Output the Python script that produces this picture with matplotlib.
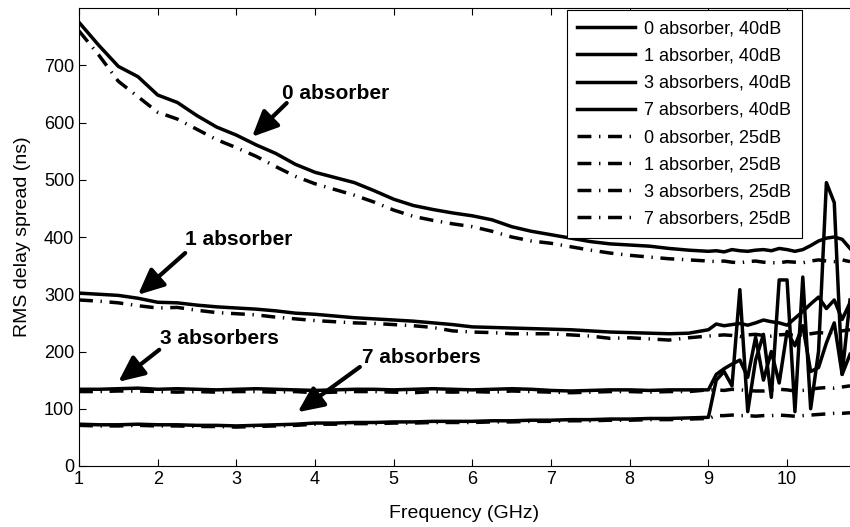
import numpy as np
import matplotlib
matplotlib.use('Agg')
import matplotlib.pyplot as plt

plt.rcParams['font.family'] = ['Liberation Sans', 'DejaVu Sans']
plt.rcParams['font.size'] = 13

# frequency grid (GHz): coarse where smooth, fine where noisy
freq_low = np.arange(1.0, 9.0, 0.25)
freq_high = np.round(np.arange(9.0, 10.85, 0.1), 1)
freq = np.concatenate([freq_low, freq_high])

# RMS delay spread (ns), 40 dB threshold
abs0_40 = [775, 735, 698, 680, 648, 635, 612, 592, 578, 561, 546, 527, 513, 504, 495, 481,
           466, 455, 448, 442, 437, 430, 418, 410, 404, 398, 392, 388, 386, 384, 380, 377,
           375, 376, 374, 378, 376, 375, 377, 378, 376, 380, 378, 375, 378, 385, 393, 398, 400, 396, 380]
abs1_40 = [302, 300, 298, 293, 286, 285, 281, 278, 276, 274, 271, 267, 265, 262, 259, 257,
           255, 253, 250, 247, 243, 242, 241, 240, 239, 238, 236, 234, 233, 232, 231, 232,
           238, 248, 245, 247, 249, 246, 250, 255, 252, 250, 246, 258, 270, 283, 295, 275, 290, 256, 285]
abs3_40 = [134, 134, 135, 136, 134, 135, 134, 133, 134, 135, 134, 133, 132, 133, 134, 134,
           133, 134, 135, 134, 133, 134, 135, 134, 132, 131, 132, 133, 133, 132, 133, 133,
           133, 160, 170, 178, 185, 155, 225, 150, 200, 145, 235, 210, 245, 165, 172, 215, 250, 160, 195]
abs7_40 = [73, 72, 72, 73, 72, 72, 71, 71, 70, 71, 72, 73, 75, 75, 76, 76,
           77, 77, 78, 78, 78, 79, 79, 80, 80, 81, 81, 82, 82, 83, 83, 84,
           85, 150, 165, 140, 308, 95, 185, 230, 120, 325, 325, 95, 330, 100, 200, 495, 460, 160, 290]

# RMS delay spread (ns), 25 dB threshold
abs0_25 = [760, 718, 672, 645, 618, 606, 588, 570, 556, 541, 523, 506, 493, 483, 473, 461,
           447, 436, 429, 423, 418, 410, 400, 393, 389, 383, 377, 372, 368, 365, 362, 360,
           358, 357, 358, 356, 355, 357, 358, 356, 355, 355, 357, 356, 355, 358, 360, 358, 357, 360, 357]
abs1_25 = [290, 288, 285, 280, 276, 277, 272, 268, 266, 264, 260, 257, 254, 252, 250, 249,
           247, 245, 242, 236, 234, 233, 231, 231, 231, 229, 227, 223, 224, 222, 220, 224,
           227, 228, 229, 228, 226, 229, 230, 228, 227, 229, 230, 228, 229, 231, 233, 232, 234, 236, 238]
abs3_25 = [130, 130, 131, 131, 130, 129, 130, 129, 130, 130, 129, 130, 128, 129, 130, 130,
           129, 128, 130, 129, 130, 129, 131, 130, 129, 128, 129, 130, 130, 129, 130, 130,
           133, 133, 132, 134, 133, 132, 131, 131, 133, 134, 133, 131, 132, 134, 136, 137, 136, 138, 140]
abs7_25 = [71, 70, 70, 71, 70, 70, 69, 69, 68, 69, 70, 71, 73, 73, 74, 74,
           75, 75, 76, 76, 76, 77, 77, 78, 78, 79, 79, 80, 80, 81, 81, 82,
           83, 88, 88, 89, 88, 88, 87, 88, 88, 89, 88, 87, 88, 89, 90, 91, 92, 92, 93]

labels_40 = ['0 absorber, 40dB', '1 absorber, 40dB', '3 absorbers, 40dB', '7 absorbers, 40dB']
labels_25 = ['0 absorber, 25dB', '1 absorber, 25dB', '3 absorbers, 25dB', '7 absorbers, 25dB']

annot_text = ['0 absorber', '1 absorber', '3 absorbers', '7 absorbers']
annot_text_pos = [(3.58, 651), (2.35, 395), (2.03, 222), (4.6, 190)]
annot_tail = [(3.64, 634), (2.35, 372), (2.02, 203), (4.57, 173)]
annot_head = [(3.2, 575), (1.75, 299), (1.5, 147), (3.78, 94)]

fig = plt.figure(figsize=(8.5, 5.27), dpi=100)
ax = fig.add_axes([79 / 850, 61 / 527, 771 / 850, 458 / 527])

dashdot = (4, 2.2, 0.4, 2.2)
for series, lab in zip([abs0_40, abs1_40, abs3_40, abs7_40], labels_40):
	ax.plot(freq, series, color='black', lw=2.5, label=lab)
for series, lab in zip([abs0_25, abs1_25, abs3_25, abs7_25], labels_25):
	ax.plot(freq, series, color='black', lw=2.5, dashes=dashdot, label=lab)

# bold labels with arrows pointing at each pair of curves
for txt, tpos, tail, head in zip(annot_text, annot_text_pos, annot_tail, annot_head):
	ax.text(tpos[0], tpos[1], txt, fontsize=15, fontweight='bold', va='center', ha='left')
	ax.annotate('', xy=head, xytext=tail,
				arrowprops=dict(arrowstyle='-|>,head_length=1.2,head_width=0.55',
								color='black', lw=3, shrinkA=0, shrinkB=0))

ax.set_xlim(1, 10.8)
ax.set_ylim(0, 800)
ax.set_xticks(range(1, 11))
ax.set_yticks(range(0, 800, 100))
ax.tick_params(direction='in', top=True, right=False, length=5, width=0.8, labelsize=13)
ax.spines['right'].set_visible(False)
for s in ['left', 'bottom', 'top']:
	ax.spines[s].set_linewidth(0.8)

ax.set_xlabel('Frequency (GHz)', fontsize=14, labelpad=12)
ax.set_ylabel('RMS delay spread (ns)', fontsize=14, labelpad=9)

leg = ax.legend(loc='upper right', bbox_to_anchor=(0.938, 0.996), borderaxespad=0,
				fancybox=False, framealpha=1, edgecolor='black', handlelength=3.2,
				handletextpad=0.5, labelspacing=0.56, borderpad=0.6, fontsize=13)
leg.get_frame().set_linewidth(0.8)

plt.savefig('out.png', dpi=100)
